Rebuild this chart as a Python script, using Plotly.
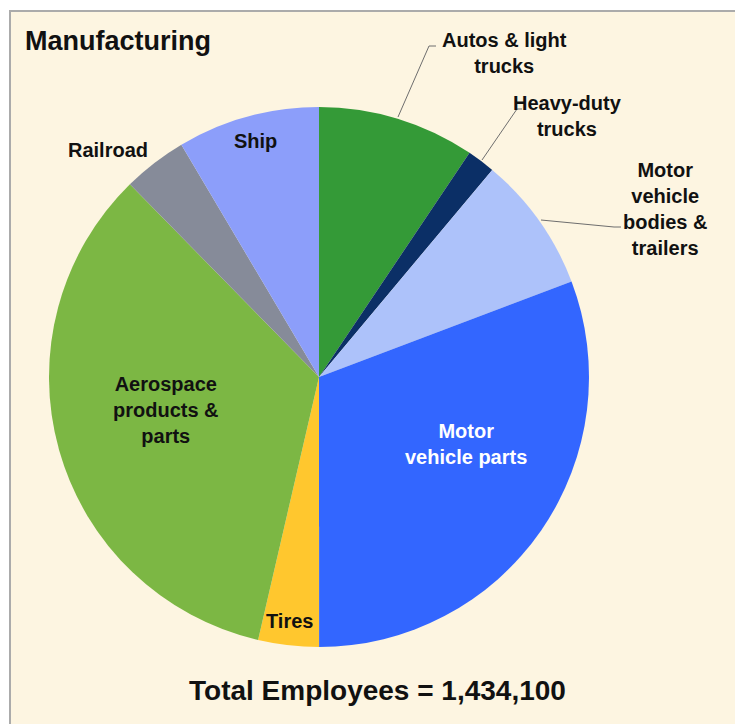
import plotly.graph_objects as go

# ==========================================
# DATA — employees (thousands) by segment
# ==========================================
segments = [
    "Autos & light trucks",
    "Heavy-duty trucks",
    "Motor vehicle bodies & trailers",
    "Motor vehicle parts",
    "Tires",
    "Aerospace products & parts",
    "Railroad",
    "Ship",
]
employees_k = [135.0, 24.0, 117.0, 441.0, 52.0, 488.0, 55.0, 122.1]
colors = ["#349A37", "#0B2F66", "#ADC2FA", "#3366FF",
          "#FFC72E", "#7CB744", "#868B99", "#8C9EFA"]
total_label = "Total Employees = 1,434,100"

W, H = 735, 724
FONT = "Liberation Sans, Arial, sans-serif"


def px(x):
    return x / W


def py(y):
    return 1 - y / H


fig = go.Figure()
fig.add_trace(go.Pie(
    labels=segments,
    values=employees_k,
    marker=dict(colors=colors, line=dict(width=0)),
    sort=False,
    direction="clockwise",
    rotation=0,
    textinfo="none",
    hovertemplate="%{label}<br>%{value:.1f}k employees<extra></extra>",
    domain=dict(x=[px(49), px(589)], y=[py(647), py(107)]),
    showlegend=False,
))

# etiquetas (centro x, centro y, texto, color)
labels = [
    (504, 53, "Autos & light<br>trucks", "#111111"),
    (567, 116, "Heavy-duty<br>trucks", "#111111"),
    (665, 209, "Motor<br>vehicle<br>bodies &<br>trailers", "#111111"),
    (108, 150, "Railroad", "#111111"),
    (256, 141, "Ship", "#111111"),
    (166, 410, "Aerospace<br>products &<br>parts", "#111111"),
    (466, 444, "Motor<br>vehicle parts", "#FFFFFF"),
    (289, 621, "Tires", "#111111"),
]
annotations = [
    dict(x=px(x), y=py(y), xref="paper", yref="paper", text=f"<b>{t}</b>",
         showarrow=False, align="center", xanchor="center", yanchor="middle",
         font=dict(family=FONT, size=20, color=c))
    for x, y, t, c in labels
]
annotations.append(dict(
    x=px(23), y=py(41), xref="paper", yref="paper", text="<b>Manufacturing</b>",
    showarrow=False, xanchor="left", yanchor="middle",
    font=dict(family=FONT, size=27, color="#111111")))
annotations.append(dict(
    x=px(378), y=py(690), xref="paper", yref="paper", text=f"<b>{total_label}</b>",
    showarrow=False, xanchor="center", yanchor="middle",
    font=dict(family=FONT, size=28, color="#111111")))

# líneas guía
leaders = [
    [(398, 117), (429, 46), (436, 46)],
    [(482, 160), (517, 109), (522, 109)],
    [(541, 220), (614, 227), (621, 227)],
]
shapes = [dict(type="rect", xref="paper", yref="paper",
               x0=px(10), x1=px(745), y0=py(734), y1=py(11),
               fillcolor="#FDF5E1", line=dict(color="#ABABAB", width=2),
               layer="below")]
for pts in leaders:
    path = "M " + " L ".join(f"{px(x)},{py(y)}" for x, y in pts)
    shapes.append(dict(type="path", xref="paper", yref="paper", path=path,
                       line=dict(color="#6E6E6E", width=1)))

fig.update_layout(
    width=W, height=H,
    margin=dict(l=0, r=0, t=0, b=0),
    paper_bgcolor="#FFFFFF",
    plot_bgcolor="#FFFFFF",
    annotations=annotations,
    shapes=shapes,
)

fig.write_html("out.html", config={"displayModeBar": False},
               post_script="document.body.style.margin='0';")
